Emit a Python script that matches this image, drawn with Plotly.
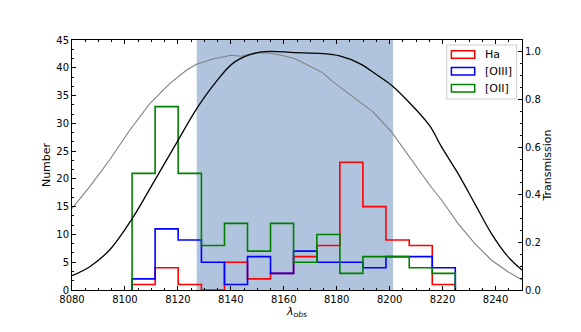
import plotly.graph_objects as go

# ---- data ----
bin_edges = [8102.7, 8111.4, 8120.1, 8128.9, 8137.6, 8146.3, 8155.0, 8163.7,
             8172.5, 8181.2, 8189.9, 8198.6, 8207.4, 8216.1, 8224.8]
ha_counts = [1, 4, 1, 0, 5, 2, 3, 6, 8, 23, 15, 9, 8, 1]
oiii_counts = [2, 11, 9, 5, 1, 6, 3, 7, 5, 5, 4, 6, 6, 4]
oii_counts = [21, 33, 21, 8, 12, 7, 12, 5, 10, 3, 6, 6, 4, 3]

band_lo, band_hi = 8127.1, 8201.3

filt_wave = [8080, 8086.7, 8094.2, 8102.4, 8110.6, 8119.4, 8127.6, 8133.9, 8141.5,
             8151.6, 8164.1, 8174.8, 8181.1, 8188.7, 8195.0, 8200.7, 8206.3, 8215.1,
             8219.6, 8225.8, 8232.1, 8238.4, 8244.7, 8250]
filt_trans = [0.060, 0.098, 0.168, 0.294, 0.448, 0.616, 0.770, 0.867, 0.958,
              1.000, 0.997, 0.993, 0.983, 0.951, 0.905, 0.860, 0.800, 0.690,
              0.601, 0.490, 0.364, 0.238, 0.140, 0.084]

meas_wave = [8080, 8086.7, 8094.2, 8101.8, 8109.4, 8116.9, 8123.2, 8127.0, 8133.9,
             8140.2, 8144.0, 8149.0, 8154.0, 8159.1, 8164.1, 8169.2, 8174.8, 8178.6,
             8186.2, 8193.7, 8200.7, 8207.6, 8215.1, 8219.6, 8225.8, 8232.1, 8238.4,
             8244.7, 8250]
meas_trans = [0.343, 0.434, 0.546, 0.671, 0.783, 0.867, 0.923, 0.948, 0.972,
              0.986, 0.982, 0.996, 0.996, 0.986, 0.972, 0.944, 0.912, 0.874,
              0.811, 0.748, 0.664, 0.559, 0.441, 0.378, 0.280, 0.196, 0.126,
              0.077, 0.042]

names = ["Ha", "[OIII]", "[OII]"]
colors = ["red", "blue", "green"]
counts_list = [ha_counts, oiii_counts, oii_counts]


def step_xy(edges, counts):
    xs = [edges[0]]
    ys = [0]
    for i, c in enumerate(counts):
        xs += [edges[i], edges[i + 1]]
        ys += [c, c]
    xs.append(edges[-1])
    ys.append(0)
    return xs, ys


fig = go.Figure()

for name, col, cnt in zip(names, colors, counts_list):
    xs, ys = step_xy(bin_edges, cnt)
    fig.add_trace(go.Scatter(x=xs, y=ys, mode="lines", line=dict(color=col, width=1.6),
                             name=name, showlegend=False, hoverinfo="skip"))

fig.add_trace(go.Scatter(x=meas_wave, y=meas_trans, mode="lines", yaxis="y2",
                         line=dict(color="gray", width=1.1), showlegend=False))
fig.add_trace(go.Scatter(x=filt_wave, y=filt_trans, mode="lines", yaxis="y2",
                         line=dict(color="black", width=1.3, shape="spline", smoothing=1.0),
                         showlegend=False))

fig.add_vrect(x0=band_lo, x1=band_hi, fillcolor="#B0C4DE", opacity=1, line_width=0, layer="below")

# ---- legend (matplotlib style, hollow patches) ----
fig.add_shape(type="rect", xref="paper", yref="paper", x0=0.8327, x1=0.9882, y0=0.764, y1=0.98,
              line=dict(color="#cccccc", width=1), fillcolor="rgba(255,255,255,0.85)", layer="above")
leg_y = [0.942, 0.8748, 0.8068]
for name, col, yy in zip(names, colors, leg_y):
    fig.add_shape(type="rect", xref="paper", yref="paper", x0=0.8431, x1=0.8949,
                  y0=yy - 0.0152, y1=yy + 0.0152, line=dict(color=col, width=1.5),
                  fillcolor="rgba(0,0,0,0)", layer="above")
    fig.add_annotation(xref="paper", yref="paper", x=0.913, y=yy, text=name, showarrow=False,
                       xanchor="left", yanchor="middle", font=dict(size=11, color="black"))

font = "DejaVu Sans"
fig.update_layout(
    width=573, height=324,
    margin=dict(l=64, r=59, t=32, b=42),
    plot_bgcolor="white", paper_bgcolor="white",
    font=dict(family=font, size=10, color="black"),
    showlegend=False,
    xaxis=dict(range=[8080, 8250], tickmode="linear", tick0=8080, dtick=20,
               ticks="inside", ticklen=4, tickcolor="black", showline=True,
               linecolor="black", linewidth=1, mirror="ticks", showgrid=False, zeroline=False,
               minor=dict(ticks="inside", ticklen=2, dtick=5, tick0=8080, tickcolor="black"),
               title=dict(text="<i>λ</i><sub><i>obs</i></sub>", font=dict(size=11), standoff=2)),
    yaxis=dict(range=[0, 45], tickmode="linear", tick0=0, dtick=5,
               ticks="inside", ticklen=4, tickcolor="black", showline=True,
               linecolor="black", linewidth=1, showgrid=False, zeroline=False,
               minor=dict(ticks="inside", ticklen=2, dtick=5 / 3, tick0=0, tickcolor="black"),
               title=dict(text="Number", font=dict(size=11), standoff=3)),
    yaxis2=dict(range=[0, 1.05], overlaying="y", side="right", tickmode="linear",
                tick0=0, dtick=0.2, tickformat=".1f",
                ticks="inside", ticklen=4, tickcolor="black", showline=True,
                linecolor="black", linewidth=1, showgrid=False, zeroline=False,
                minor=dict(ticks="inside", ticklen=2, dtick=0.05, tick0=0, tickcolor="black"),
                title=dict(text="Transmission", font=dict(size=11), standoff=3)),
)

fig.write_html("out.html")
